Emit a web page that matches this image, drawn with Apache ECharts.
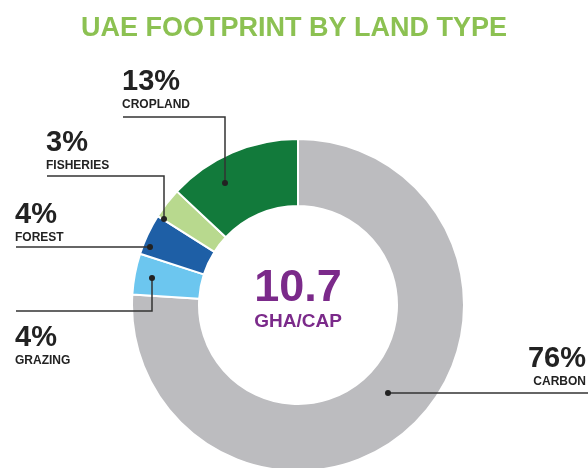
<!DOCTYPE html>
<html>
<head>
<meta charset="utf-8">
<script src="https://cdn.jsdelivr.net/npm/echarts@6/dist/echarts.min.js"></script>
<style>
html,body{margin:0;padding:0;background:#fff;}
#main{width:588px;height:468px;}
</style>
</head>
<body>
<div id="main"></div>
<script>
// ---- data ----
var categories = ['CARBON', 'GRAZING', 'FOREST', 'FISHERIES', 'CROPLAND'];
var shares = [76, 4, 4, 3, 13];           // percent of footprint
var totalValue = '10.7';
var totalUnit = 'GHA/CAP';
var chartTitle = 'UAE FOOTPRINT BY LAND TYPE';

// ---- styling / layout (not data) ----
var colors = ['#bcbcbf', '#6cc6ef', '#1e5fa6', '#b8d98e', '#127a3b'];
var CX = 298, CY = 305;
var labelFont = '"Liberation Sans", Arial, sans-serif';
// per-label layout: text anchor and leader line points (first point = dot)
var labelLayouts = [
  {x: 586, y: 344, align: 'right', line: [[388, 393], [588, 393]]},
  {x: 15, y: 323, align: 'left', line: [[152, 278], [152, 311], [16, 311]]},
  {x: 15, y: 200, align: 'left', line: [[150, 247], [16, 247]]},
  {x: 46, y: 128, align: 'left', line: [[164, 219], [164, 176], [47, 176]]},
  {x: 122, y: 67, align: 'left', line: [[225, 183], [225, 117], [123, 117]]}
];

var chart = echarts.init(document.getElementById('main'), null, {renderer: 'canvas'});

var data = categories.map(function (c, i) {
  return {name: c, value: shares[i], itemStyle: {color: colors[i]}};
});

var leaders = [];
labelLayouts.forEach(function (l) {
  leaders.push({
    type: 'polyline',
    shape: {points: l.line},
    style: {stroke: '#333', lineWidth: 1.5, fill: null},
    z: 100
  });
  leaders.push({
    type: 'circle',
    shape: {cx: l.line[0][0], cy: l.line[0][1], r: 3},
    style: {fill: '#222'},
    z: 101
  });
});

var option = {
  backgroundColor: '#fff',
  animation: false,
  title: {
    text: chartTitle,
    left: 'center',
    top: 10,
    textStyle: {
      color: '#8cc152',
      fontFamily: '"Liberation Sans", Arial, sans-serif',
      fontWeight: 'bold',
      fontSize: 27
    }
  },
  graphic: leaders.concat([
    {
      type: 'text',
      x: CX, y: 289,
      style: {
        text: totalValue,
        fill: '#7b2a8a',
        font: 'bold 45px "Liberation Sans", Arial, sans-serif',
        textAlign: 'center',
        textVerticalAlign: 'middle'
      }
    },
    {
      type: 'text',
      x: CX, y: 322,
      style: {
        text: totalUnit,
        fill: '#7b2a8a',
        font: 'bold 19px "Liberation Sans", Arial, sans-serif',
        textAlign: 'center',
        textVerticalAlign: 'middle'
      }
    }
  ]),
  series: [{
    type: 'pie',
    center: [CX, CY],
    radius: [99, 166],
    startAngle: 90,
    clockwise: true,
    avoidLabelOverlap: false,
    itemStyle: {borderColor: '#fff', borderWidth: 2},
    emphasis: {disabled: true},
    data: data,
    label: {
      show: true,
      position: 'outside',
      formatter: function (p) { return '{p|' + p.value + '%}\n{n|' + p.name + '}'; },
      rich: {
        p: {fontFamily: labelFont, fontWeight: 'bold', fontSize: 29, lineHeight: 30, color: '#222'},
        n: {fontFamily: labelFont, fontWeight: 'bold', fontSize: 12, lineHeight: 16, color: '#222'}
      }
    },
    labelLine: {show: false},
    labelLayout: function (params) {
      var l = labelLayouts[params.dataIndex];
      return {x: l.x, y: l.y, align: l.align, verticalAlign: 'top'};
    }
  }]
};
chart.setOption(option);
</script>
</body>
</html>
